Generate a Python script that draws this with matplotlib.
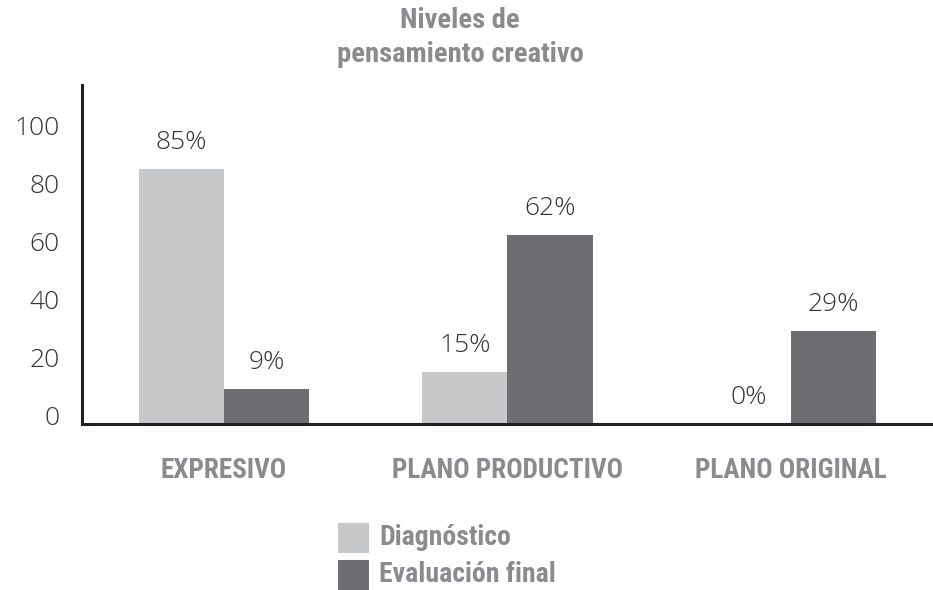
import numpy as np
import matplotlib
matplotlib.use("Agg")
import matplotlib.pyplot as plt
from matplotlib.patches import Rectangle

categories = ["EXPRESIVO", "PLANO PRODUCTIVO", "PLANO ORIGINAL"]
series_names = ["Diagnóstico", "Evaluación final"]
diagnostico = [85, 15, 0]
evaluacion = [9, 62, 29]
yticks = [0, 20, 40, 60, 80, 100]

c_light = "#c7c8ca"
c_dark = "#6d6e71"
c_text = "#8a8b8e"
narrow = ["Roboto Condensed", "Open Sans", "DejaVu Sans"]
light_font = ["Open Sans", "DejaVu Sans"]

W, H = 933, 590
fig = plt.figure(figsize=(W/100, H/100), dpi=100)
ax = fig.add_axes([82/W, 1-424/H, 1-82/W, (424-85)/H])
ymin, ymax = -3.1, 113.8
ax.set_ylim(ymin, ymax)
ax.set_xlim(-0.5, 2.5)

x = np.arange(len(categories))
w = 0.30
for vals, off, col in [(diagnostico, -w/2, c_light), (evaluacion, w/2, c_dark)]:
    v = np.array(vals, dtype=float)
    h = np.where(v > 0, v - ymin, 0)
    bars = ax.bar(x + off, h, width=w, bottom=ymin, color=col, linewidth=0)
    for b, val in zip(bars, vals):
        ax.annotate(f"{val}%", (b.get_x() + b.get_width()/2, b.get_y() + b.get_height()),
                    xytext=(0, 19), textcoords="offset points", ha="center", va="center",
                    fontsize=19, fontweight="light", color="#333333", family=light_font)

for s in ["top", "right"]:
    ax.spines[s].set_visible(False)
for s in ["left", "bottom"]:
    ax.spines[s].set_color("#231f20")
    ax.spines[s].set_linewidth(2.2)

ax.set_yticks(yticks)
ax.set_yticklabels([str(t) for t in yticks], family=light_font, fontsize=19,
                   fontweight="light", color="#333333")
ax.tick_params(axis="y", length=0, pad=16)
ax.set_xticks(x)
ax.set_xticklabels(categories, family=narrow, fontsize=19.5, fontweight="bold", color=c_text)
ax.tick_params(axis="x", length=0, pad=24)

fig.text(460/W, 1-20/H, "Niveles de", ha="center", va="center",
         family=narrow, fontsize=20.5, fontweight="bold", color=c_text)
fig.text(460/W, 1-55/H, "pensamiento creativo", ha="center", va="center",
         family=narrow, fontsize=20.5, fontweight="bold", color=c_text)

# legend (manual, for exact square size)
leg_cols = [c_light, c_dark]
sq_tops = [523, 560]
baselines = [545, 582]
for name, col, top, base in zip(series_names, leg_cols, sq_tops, baselines):
    fig.add_artist(Rectangle((338/W, 1-(top+30)/H), 31/W, 30/H, transform=fig.transFigure,
                             facecolor=col, edgecolor="none"))
    fig.text(379/W, 1-base/H, name, ha="left", va="baseline", family=narrow,
             fontsize=20, fontweight="bold", color=c_text)

fig.savefig("out.png", dpi=100)
